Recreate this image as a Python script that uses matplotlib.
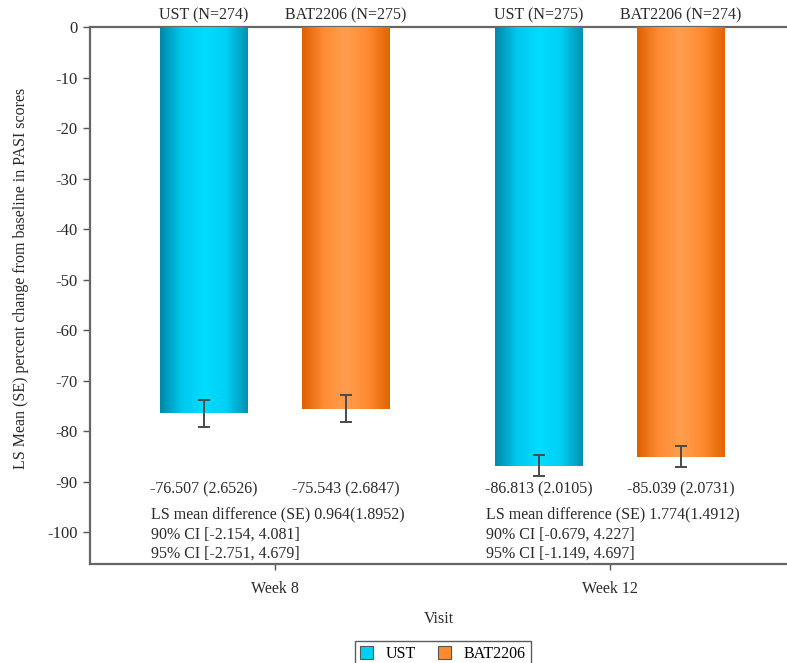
import numpy as np
import matplotlib
matplotlib.use("Agg")
from matplotlib import pyplot as plt
from matplotlib.colors import LinearSegmentedColormap
from matplotlib.patches import Patch
import matplotlib.transforms as mtransforms

plt.rcParams['font.family'] = ['Liberation Serif', 'DejaVu Serif']

# данные
visits = ["Week 8", "Week 12"]
groups = ["UST", "BAT2206"]
n_labels = [["UST (N=274)", "BAT2206 (N=275)"], ["UST (N=275)", "BAT2206 (N=274)"]]
ls_mean = [[-76.507, -75.543], [-86.813, -85.039]]
se = [[2.6526, 2.6847], [2.0105, 2.0731]]
diff_text = ["LS mean difference (SE) 0.964(1.8952)", "LS mean difference (SE) 1.774(1.4912)"]
ci90_text = ["90% CI [-2.154, 4.081]", "90% CI [-0.679, 4.227]"]
ci95_text = ["95% CI [-2.751, 4.679]", "95% CI [-1.149, 4.697]"]
yticks = list(range(0, -101, -10))

fs = 11.5
tc = "#2a2a2a"
colors = ["#00CFF5", "#FF8A30"]
cmaps = [
    LinearSegmentedColormap.from_list("c", ["#0088A8", "#00C8EE", "#00DCFF", "#00D0F5", "#0090B2"]),
    LinearSegmentedColormap.from_list("o", ["#DD6000", "#FF8C35", "#FF9E4E", "#FF8A30", "#E06400"]),
]

fig = plt.figure(figsize=(7.87, 6.63), dpi=100)
ax = fig.add_axes([0.1144, 0.1493, 0.8856, 0.81])

x = np.arange(len(visits))
offset = 0.212
width = 0.26
grad = np.linspace(0, 1, 256).reshape(1, -1)

for g in range(2):
    xs = x + (g * 2 - 1) * offset
    vals = [ls_mean[v][g] for v in range(2)]
    errs = [se[v][g] for v in range(2)]
    bars = ax.bar(xs, vals, width=width, color=colors[g], edgecolor="none", zorder=2)
    for b in bars:
        x0, y0 = b.get_x(), b.get_y()
        x1, y1 = x0 + b.get_width(), y0 + b.get_height()
        im = ax.imshow(grad, cmap=cmaps[g], aspect="auto", extent=(x0, x1, y1, y0),
                       zorder=3, interpolation="bicubic")
        im.set_clip_path(b)
    ax.errorbar(xs, vals, yerr=errs, fmt="none", ecolor="#4a4a4a", elinewidth=1.4,
                capsize=4, capthick=1.4, zorder=4)
    for v in range(2):
        ax.text(xs[v], -91.5, f"{ls_mean[v][g]:.3f} ({se[v][g]:.4f})", ha="center", va="center",
                fontsize=fs, color=tc)
        ax.text(xs[v], 1.006, n_labels[v][g], ha="center", va="bottom", fontsize=fs,
                color=tc, transform=mtransforms.blended_transform_factory(ax.transData, ax.transAxes))

for v in range(2):
    xl = x[v] - 0.37
    ax.text(xl, -96.4, diff_text[v], ha="left", va="center", fontsize=fs, color=tc)
    ax.text(xl, -100.4, ci90_text[v], ha="left", va="center", fontsize=fs, color=tc)
    ax.text(xl, -104.2, ci95_text[v], ha="left", va="center", fontsize=fs, color=tc)

ax.set_xlim(-0.552, 1.53)
ax.set_ylim(-106.3, 0)
ax.set_yticks(yticks)
ax.set_yticklabels([str(t) for t in yticks], fontsize=fs + 0.5, color=tc)
ax.set_xticks(x)
ax.set_xticklabels(visits, fontsize=fs, color=tc)
ax.tick_params(axis="y", length=5, width=1, color="#555555", pad=4)
ax.tick_params(axis="x", length=4, width=1, color="#555555", pad=8)

for s in ["left", "bottom", "top"]:
    ax.spines[s].set_color("#666666")
    ax.spines[s].set_linewidth(1.6)
ax.spines["right"].set_visible(False)

ax.set_ylabel("LS Mean (SE) percent change from baseline in PASI scores", fontsize=fs, color=tc)
ax.yaxis.set_label_coords(-0.087, 0.531)
ax.set_xlabel("Visit", fontsize=fs, color=tc, labelpad=10)

handles = [Patch(facecolor=colors[i], edgecolor="#555555", linewidth=0.8) for i in range(2)]
leg = fig.legend(handles, groups, loc="lower center", bbox_to_anchor=(0.563, -0.018), ncol=2,
                 fontsize=fs, frameon=True, fancybox=False, edgecolor="#333333",
                 handlelength=0.8, handleheight=0.8, columnspacing=1.4, borderpad=0.3)
leg.get_frame().set_linewidth(1.0)

fig.savefig("out.png", dpi=100)
